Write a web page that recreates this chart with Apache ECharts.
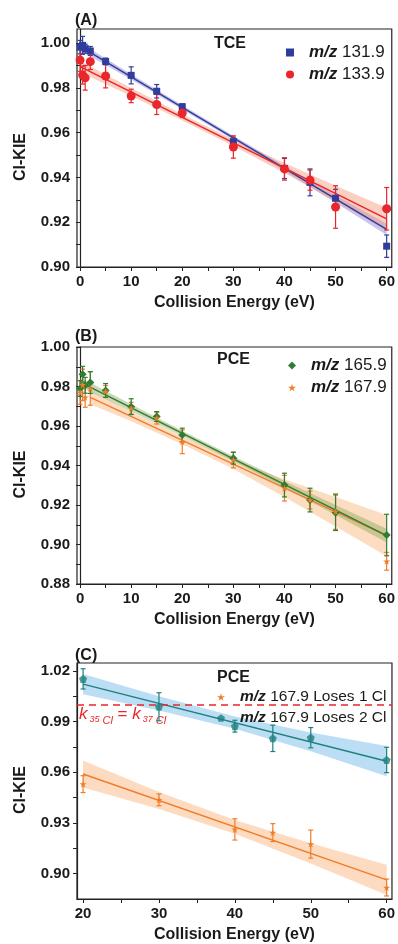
<!DOCTYPE html>
<html>
<head>
<meta charset="utf-8">
<script src="https://cdn.jsdelivr.net/npm/echarts@6/dist/echarts.min.js"></script>
<style>
html, body { margin: 0; padding: 0; background: #fff; }
#main { width: 398px; height: 944px; }
</style>
</head>
<body>
<div id="main"></div>
<script>
var FONT = '"Liberation Sans", Arial, Helvetica, sans-serif';

// (A) TCE
var tceX131 = [0, 0.5, 1, 2, 5, 10, 15, 20, 30, 40, 45, 50, 60];
var tceY131 = [0.9982, 0.9990, 0.9975, 0.9965, 0.9918, 0.9856, 0.9785, 0.9716, 0.9560, 0.9440, 0.9378, 0.9307, 0.9093];
var tceE131 = [0.003, 0.004, 0.002, 0.002, 0.0015, 0.0038, 0.003, 0.0012, 0.002, 0.0045, 0.006, 0.004, 0.005];
var tceX133 = [0, 0.5, 1, 2, 5, 10, 15, 20, 30, 40, 45, 50, 60];
var tceY133 = [0.9924, 0.9857, 0.9845, 0.9917, 0.9853, 0.9764, 0.9726, 0.9688, 0.9536, 0.9438, 0.9388, 0.9268, 0.9260];
var tceE133 = [0.005, 0.004, 0.0055, 0.0035, 0.0053, 0.003, 0.0045, 0.002, 0.005, 0.005, 0.0045, 0.0095, 0.0095];
var tceFit131 = [[0, 0.9985], [60, 0.9168]];
var tceFit133 = [[0, 0.9895], [60, 0.9215]];
var tceBandX = [0, 10, 20, 30, 40, 50, 60];
var tceUp131 = [1.0003, 0.9861, 0.9722, 0.9586, 0.9452, 0.9321, 0.9193];
var tceLo131 = [0.9967, 0.9837, 0.9704, 0.9568, 0.9428, 0.9287, 0.9143];
var tceUp133 = [0.9920, 0.9800, 0.9682, 0.9570, 0.9464, 0.9363, 0.9265];
var tceLo133 = [0.9870, 0.9764, 0.9654, 0.9540, 0.9420, 0.9293, 0.9165];

// (B) PCE
var pceX165 = [0, 0.5, 1, 2, 5, 10, 15, 20, 30, 40, 45, 50, 60];
var pceY165 = [0.9790, 0.9862, 0.9806, 0.9820, 0.9780, 0.9698, 0.9648, 0.9554, 0.9437, 0.9301, 0.9225, 0.9161, 0.9048];
var pceE165 = [0.004, 0.004, 0.004, 0.0055, 0.0035, 0.004, 0.0025, 0.0035, 0.003, 0.006, 0.006, 0.009, 0.0105];
var pceX167 = [0, 0.5, 1, 2, 5, 10, 15, 20, 30, 40, 45, 50, 60];
var pceY167 = [0.9770, 0.9808, 0.9745, 0.9790, 0.9775, 0.9690, 0.9640, 0.9520, 0.9428, 0.9285, 0.9225, 0.9167, 0.8915];
var pceE167 = [0.006, 0.008, 0.005, 0.0085, 0.003, 0.003, 0.003, 0.006, 0.004, 0.0065, 0.0045, 0.009, 0.0045];
var pceFit165 = [[0, 0.9822], [60, 0.9045]];
var pceFit167 = [[2, 0.9745], [60, 0.9045]];
var pceBandX165 = [0, 10, 20, 30, 40, 50, 60];
var pceUp165 = [0.9847, 0.9710, 0.9576, 0.9447, 0.9321, 0.9200, 0.9080];
var pceLo165 = [0.9797, 0.9675, 0.9550, 0.9421, 0.9287, 0.9150, 0.9010];
var pceBandX167 = [2, 10, 20, 30, 40, 50, 60];
var pceUp167 = [0.9780, 0.9674, 0.9548, 0.9432, 0.9331, 0.9241, 0.9150];
var pceLo167 = [0.9710, 0.9624, 0.9508, 0.9382, 0.9241, 0.9091, 0.8940];

// (C) PCE fragments
var lossX1 = [20, 30, 40, 45, 50, 60];
var lossY1 = [0.9530, 0.9437, 0.9262, 0.9243, 0.9175, 0.8918];
var lossE1 = [0.005, 0.0035, 0.0063, 0.0053, 0.0083, 0.005];
var lossX2 = [20, 30, 40, 45, 50, 60];
var lossY2 = [1.0153, 0.9988, 0.9873, 0.9801, 0.9805, 0.9673];
var lossE2 = [0.006, 0.0083, 0.0035, 0.0078, 0.006, 0.0075];
var lossFit1 = [[20, 0.9590], [60, 0.8963]];
var lossFit2 = [[20, 1.0122], [60, 0.9666]];
var lossBandX = [20, 30, 40, 50, 60];
var lossUp1 = [0.9670, 0.9483, 0.9317, 0.9180, 0.9053];
var lossLo1 = [0.9510, 0.9383, 0.9236, 0.9060, 0.8873];
var lossUp2 = [1.0182, 1.0050, 0.9930, 0.9835, 0.9756];
var lossLo2 = [1.0062, 0.9966, 0.9858, 0.9725, 0.9576];
var kieEqual = 1.0;

// ticks
var xTicks = [0, 5, 10, 15, 20, 25, 30, 35, 40, 45, 50, 55, 60];
var xLabels = [0, 10, 20, 30, 40, 50, 60];
var xTicksC = [20, 25, 30, 35, 40, 45, 50, 55, 60];
var xLabelsC = [20, 30, 40, 50, 60];
var yLabelsA = [0.90, 0.92, 0.94, 0.96, 0.98, 1.00];
var yTicksA = [0.90, 0.91, 0.92, 0.93, 0.94, 0.95, 0.96, 0.97, 0.98, 0.99, 1.00];
var yLabelsB = [0.88, 0.90, 0.92, 0.94, 0.96, 0.98, 1.00];
var yTicksB = [0.88, 0.89, 0.90, 0.91, 0.92, 0.93, 0.94, 0.95, 0.96, 0.97, 0.98, 0.99, 1.00];
var yLabelsC = [0.90, 0.93, 0.96, 0.99, 1.02];
var yTicksC = [0.90, 0.915, 0.93, 0.945, 0.96, 0.975, 0.99, 1.005, 1.02];

var STAR = 'path://M50,0 L61,35 L98,35 L68,57 L79,91 L50,70 L21,91 L32,57 L2,35 L39,35 Z';
var PENTA = 'path://M50,0 L98,35 L79,91 L21,91 L2,35 Z';

var cBlue = '#2f3d9c', cRed = '#e8262b', cGreen = '#2e7d32', cOrange = '#f07d2a', cTeal = '#1f8080';

function zip(xs, ys, es) {
	return xs.map(function (x, i) { return es ? [x, ys[i], es[i]] : [x, ys[i]]; });
}

function bandSeries(idx, bx, up, lo, fill) {
	return {
		type: 'custom', xAxisIndex: idx, yAxisIndex: idx, silent: true, z: 1,
		data: [[bx[0], up[0]]],
		encode: { x: 0, y: 1 },
		renderItem: function (params, api) {
			var pts = [];
			for (var i = 0; i < bx.length; i++) pts.push(api.coord([bx[i], up[i]]));
			for (var j = bx.length - 1; j >= 0; j--) pts.push(api.coord([bx[j], lo[j]]));
			return { type: 'polygon', shape: { points: pts }, style: { fill: fill } };
		}
	};
}

function fitSeries(idx, pts, color) {
	return {
		type: 'line', xAxisIndex: idx, yAxisIndex: idx, silent: true, z: 3,
		data: pts, showSymbol: false, symbol: 'none',
		lineStyle: { color: color, width: 1.5 }
	};
}

function errSeries(idx, xs, ys, es, color) {
	return {
		type: 'custom', xAxisIndex: idx, yAxisIndex: idx, silent: true, z: 4,
		data: zip(xs, ys, es),
		encode: { x: 0, y: 1 },
		renderItem: function (params, api) {
			var x = api.value(0), y = api.value(1), e = api.value(2);
			if (!e) return null;
			var hi = api.coord([x, y + e]), lo = api.coord([x, y - e]);
			var w = 2.5, st = { stroke: color, lineWidth: 1.2 };
			return {
				type: 'group', children: [
					{ type: 'line', shape: { x1: hi[0], y1: hi[1], x2: lo[0], y2: lo[1] }, style: st },
					{ type: 'line', shape: { x1: hi[0] - w, y1: hi[1], x2: hi[0] + w, y2: hi[1] }, style: st },
					{ type: 'line', shape: { x1: lo[0] - w, y1: lo[1], x2: lo[0] + w, y2: lo[1] }, style: st }
				]
			};
		}
	};
}

function dotSeries(idx, name, xs, ys, symbol, size, color) {
	return {
		type: 'scatter', name: name, xAxisIndex: idx, yAxisIndex: idx, z: 5,
		data: zip(xs, ys), symbol: symbol, symbolSize: size,
		itemStyle: { color: color, opacity: 1 }
	};
}

function xAxisOf(idx, min, max, ticks, labels) {
	return {
		type: 'value', gridIndex: idx, min: min, max: max,
		name: 'Collision Energy (eV)', nameLocation: 'middle', nameGap: 28,
		nameTextStyle: { fontFamily: FONT, fontWeight: 'bold', fontSize: 16, color: '#1a1a1a' },
		axisLine: { lineStyle: { color: '#222', width: 1.2 } },
		axisTick: { show: true, length: 4, customValues: ticks, lineStyle: { color: '#222', width: 1 } },
		axisLabel: { customValues: labels, margin: 7, fontFamily: FONT, fontWeight: 'bold', fontSize: 15, color: '#1a1a1a' },
		splitLine: { show: false }
	};
}

function yAxisOf(idx, min, max, ticks, labels) {
	return {
		type: 'value', gridIndex: idx, min: min, max: max,
		name: 'Cl-KIE', nameLocation: 'middle', nameGap: 48,
		nameTextStyle: { fontFamily: FONT, fontWeight: 'bold', fontSize: 16, color: '#1a1a1a', padding: [0, 18, 0, 0] },
		axisLine: { show: true, lineStyle: { color: '#222', width: 1.2 } },
		axisTick: { show: true, length: 4, customValues: ticks, lineStyle: { color: '#222', width: 1 } },
		axisLabel: {
			customValues: labels, margin: 7, fontFamily: FONT, fontWeight: 'bold', fontSize: 15, color: '#1a1a1a',
			formatter: function (v) { return v.toFixed(2); }
		},
		splitLine: { show: false }
	};
}

function legendOf(names, left, top, size) {
	return {
		data: names, left: left, top: top, orient: 'vertical', itemGap: 5,
		itemWidth: 8, itemHeight: 8, selectedMode: false,
		formatter: function (n) { return '{i|m/z}' + n.slice(3); },
		textStyle: {
			fontFamily: FONT, fontSize: size, color: '#1a1a1a',
			rich: { i: { fontFamily: FONT, fontSize: size, fontStyle: 'italic', fontWeight: 'bold', padding: [0, 0, 0, 10] } }
		}
	};
}

function titleOf(text, left, top) {
	return { text: text, left: left, top: top, padding: 0, textStyle: { fontFamily: FONT, fontWeight: 'bold', fontSize: 16, color: '#1a1a1a' } };
}

var chart = echarts.init(document.getElementById('main'));
var option = {
	backgroundColor: '#fff',
	animation: false,
	title: [
		titleOf('(A)', 75, 13), titleOf('TCE', 214, 36),
		titleOf('(B)', 75, 329), titleOf('PCE', 217, 352),
		titleOf('(C)', 75, 648), titleOf('PCE', 217, 670)
	],
	legend: [
		legendOf(['m/z 131.9', 'm/z 133.9'], 281, 39, 17),
		legendOf(['m/z 165.9', 'm/z 167.9'], 283, 352, 17),
		legendOf(['m/z 167.9 Loses 1 Cl', 'm/z 167.9 Loses 2 Cl'], 212, 684, 15.5)
	],
	grid: [
		{ left: 77, top: 29, width: 315, height: 238, show: true, borderColor: '#222', borderWidth: 1.2 },
		{ left: 77, top: 347, width: 315, height: 237, show: true, borderColor: '#222', borderWidth: 1.2 },
		{ left: 77, top: 663, width: 315, height: 239, show: true, borderColor: '#222', borderWidth: 1.2 }
	],
	xAxis: [
		xAxisOf(0, -0.6, 61, xTicks, xLabels),
		xAxisOf(1, -0.6, 61, xTicks, xLabels),
		xAxisOf(2, 19.2, 60.7, xTicksC, xLabelsC)
	],
	yAxis: [
		yAxisOf(0, 0.90, 1.0063, yTicksA, yLabelsA),
		yAxisOf(1, 0.88, 1.00, yTicksB, yLabelsB),
		yAxisOf(2, 0.885, 1.0247, yTicksC, yLabelsC)
	],
	graphic: [{
		type: 'text', left: 79, top: 706, silent: true,
		style: {
			text: '{k|k}{s|35}{c|Cl}{e| = }{k|k}{s|37}{c|Cl}',
			fill: '#e8262b',
			rich: {
				k: { fontFamily: FONT, fontStyle: 'italic', fontSize: 17, fill: '#e8262b' },
				s: { fontFamily: FONT, fontStyle: 'italic', fontSize: 9, fill: '#e8262b', padding: [9, 0, 0, 2] },
				c: { fontFamily: FONT, fontStyle: 'italic', fontSize: 11, fill: '#e8262b', padding: [12, 0, 0, 3] },
				e: { fontFamily: FONT, fontSize: 17, fill: '#e8262b' }
			}
		}
	}],
	series: [
		bandSeries(0, tceBandX, tceUp131, tceLo131, 'rgba(120,110,210,0.4)'),
		bandSeries(0, tceBandX, tceUp133, tceLo133, 'rgba(246,150,120,0.45)'),
		fitSeries(0, tceFit131, cBlue),
		fitSeries(0, tceFit133, cRed),
		errSeries(0, tceX131, tceY131, tceE131, cBlue),
		errSeries(0, tceX133, tceY133, tceE133, cRed),
		dotSeries(0, 'm/z 131.9', tceX131, tceY131, 'rect', 7, cBlue),
		dotSeries(0, 'm/z 133.9', tceX133, tceY133, 'circle', 9, cRed),

		bandSeries(1, pceBandX167, pceUp167, pceLo167, 'rgba(250,180,120,0.45)'),
		bandSeries(1, pceBandX165, pceUp165, pceLo165, 'rgba(140,170,90,0.45)'),
		fitSeries(1, pceFit167, cOrange),
		fitSeries(1, pceFit165, cGreen),
		errSeries(1, pceX167, pceY167, pceE167, cOrange),
		errSeries(1, pceX165, pceY165, pceE165, cGreen),
		dotSeries(1, 'm/z 165.9', pceX165, pceY165, 'diamond', 8, cGreen),
		dotSeries(1, 'm/z 167.9', pceX167, pceY167, STAR, 7, cOrange),

		bandSeries(2, lossBandX, lossUp1, lossLo1, 'rgba(252,190,140,0.55)'),
		bandSeries(2, lossBandX, lossUp2, lossLo2, 'rgba(150,205,238,0.65)'),
		fitSeries(2, lossFit1, cOrange),
		fitSeries(2, lossFit2, cTeal),
		errSeries(2, lossX1, lossY1, lossE1, cOrange),
		errSeries(2, lossX2, lossY2, lossE2, cTeal),
		dotSeries(2, 'm/z 167.9 Loses 1 Cl', lossX1, lossY1, STAR, 7, cOrange),
		{
			type: 'scatter', name: 'm/z 167.9 Loses 2 Cl', xAxisIndex: 2, yAxisIndex: 2, z: 5,
			data: zip(lossX2, lossY2), symbol: PENTA, symbolSize: 8,
			itemStyle: { color: cTeal },
			markLine: {
				silent: true, symbol: 'none', label: { show: false },
				lineStyle: { color: '#e8262b', type: [7, 5], width: 1.5 },
				data: [{ yAxis: kieEqual }]
			}
		}
	]
};
chart.setOption(option);
</script>
</body>
</html>
